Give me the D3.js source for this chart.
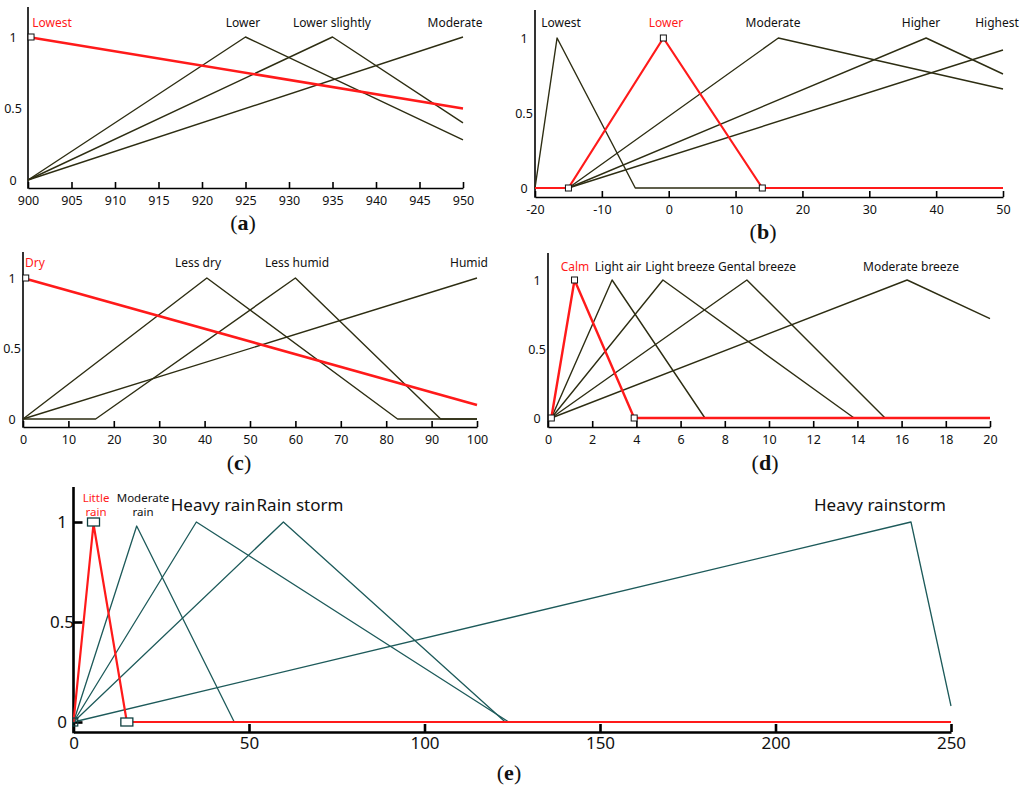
<!DOCTYPE html>
<html>
<head>
<meta charset="utf-8">
<script src="https://cdn.jsdelivr.net/npm/d3@7"></script>
<style>
  body { margin: 0; background: #fff; }
  svg text { font-family: "Noto Sans", "Open Sans", sans-serif; }
</style>
</head>
<body>
<div id="chart"></div>
<script>
// (a) air pressure
const aTicks = [900, 905, 910, 915, 920, 925, 930, 935, 940, 945, 950]
const aNames = ["Lowest", "Lower", "Lower slightly", "Moderate"]
const aLowest = [[900, 1], [950, 0.5]]
const aLower = [[900, 0], [925, 1], [950, 0.28]]
const aLowerSlightly = [[900, 0], [935, 1], [950, 0.4]]
const aModerate = [[900, 0], [950, 1]]
const aMarks = [[900.35, 1]]

// (b) temperature
const bTicks = [-20, -10, 0, 10, 20, 30, 40, 50]
const bNames = ["Lowest", "Lower", "Moderate", "Higher", "Highest"]
const bLowest = [[-20, 0], [-16.7, 1], [-5, 0], [50, 0]]
const bLower = [[-20, 0], [-15, 0], [-0.8, 1], [14, 0], [50, 0]]
const bModerate = [[-20, 0], [-15, 0], [16.4, 1], [50, 0.66]]
const bHigher = [[-20, 0], [-15, 0], [38.5, 1], [50, 0.76]]
const bHighest = [[-20, 0], [-15, 0], [50, 0.92]]
const bMarks = [[-15, 0], [-0.8, 1], [14, 0]]

// (c) humidity
const cTicks = [0, 10, 20, 30, 40, 50, 60, 70, 80, 90, 100]
const cNames = ["Dry", "Less dry", "Less humid", "Humid"]
const cDry = [[0, 1], [100, 0.1]]
const cLessDry = [[0, 0], [40.5, 1], [82.5, 0], [100, 0]]
const cLessHumid = [[0, 0], [16, 0], [60, 1], [92, 0], [100, 0]]
const cHumid = [[0, 0], [100, 1]]
const cMarks = [[0.6, 1]]

// (d) wind speed
const dTicks = [0, 2, 4, 6, 8, 10, 12, 14, 16, 18, 20]
const dNames = ["Calm", "Light air", "Light breeze", "Gental breeze", "Moderate breeze"]
const dCalm = [[0.15, 0], [1.2, 1], [3.9, 0], [20, 0]]
const dLightAir = [[0.15, 0], [2.9, 1], [7.1, 0], [20, 0]]
const dLightBreeze = [[0.15, 0], [5.2, 1], [13.85, 0], [20, 0]]
const dGentalBreeze = [[0.15, 0], [9, 1], [15.25, 0], [20, 0]]
const dModerateBreeze = [[0.15, 0], [16.25, 1], [20, 0.72]]
const dMarks = [[0.15, 0], [1.2, 1], [3.9, 0]]

// (e) rainfall
const eTicks = [0, 50, 100, 150, 200, 250]
const eNames = ["Little\nrain", "Moderate\nrain", "Heavy rain", "Rain storm", "Heavy rainstorm"]
const eLittle = [[0, 0], [5.7, 0.99], [15.2, 0], [250, 0]]
const eModerate = [[0, 0], [18, 0.98], [45.8, 0], [250, 0]]
const eHeavy = [[0, 0], [35, 1], [124, 0], [250, 0]]
const eStorm = [[0, 0], [59.8, 1], [123, 0], [250, 0]]
const eHeavyStorm = [[0, 0], [238.6, 1], [250, 0.08]]
const eMarks = [[5.7, 1], [15.2, 0]]
const eOrigin = [[0.5, 0]]

const yTicks = [0, 0.5, 1]

let svg = d3.select("#chart")
  .append("svg")
  .attr("width", 1024)
  .attr("height", 792)

const RED = "#ff1a1a"

function panel(cfg) {
  let x = d3.scaleLinear().domain(cfg.xDomain).range(cfg.xRange)
  let y = d3.scaleLinear().domain([0, 1]).range([cfg.y0, cfg.y1])
  let g = svg.append("g")

  //X axis, ticks pointing up
  let xa = g.append("g")
  .attr("transform", "translate(0," + cfg.axisY + ")")
  .call(d3.axisBottom(x)
    .tickValues(cfg.ticks)
    .tickSizeInner(-cfg.tickLen)
    .tickSizeOuter(0)
    .tickPadding(cfg.tickPad)
    .tickFormat(d => String(d)))
  xa.attr("font-family", null).attr("font-size", cfg.tickFont)
  xa.select(".domain").attr("stroke", "#000").attr("stroke-width", cfg.axisW)
  xa.selectAll(".tick line").attr("stroke", "#000").attr("stroke-width", cfg.axisW)
  xa.selectAll(".tick text").attr("fill", "#111")

  //Y axis
  let ya = g.append("g")
  .attr("transform", "translate(" + cfg.xRange[0] + ",0)")
  .call(d3.axisLeft(y)
    .tickValues(yTicks)
    .tickSizeInner(-cfg.yTickLen)
    .tickSizeOuter(0)
    .tickPadding(0)
    .tickFormat(d => String(d)))
  ya.attr("font-family", null).attr("font-size", cfg.yFont)
  ya.select(".domain").remove()
  ya.selectAll(".tick line").attr("stroke", "#000").attr("stroke-width", cfg.axisW)
  ya.selectAll(".tick text")
  .attr("text-anchor", "middle")
  .attr("x", cfg.yLabelX - cfg.xRange[0])
  .attr("fill", "#111")

  g.append("line")
  .attr("x1", cfg.xRange[0]).attr("x2", cfg.xRange[0])
  .attr("y1", cfg.axisTop).attr("y2", cfg.axisY + cfg.axisW / 2)
  .attr("stroke", "#000")
  .attr("stroke-width", cfg.axisW)

  let line = d3.line().x(d => x(d[0])).y(d => y(d[1]))

  // dark curves first, red one on top
  cfg.series.forEach((s, i) => {
    if (i === cfg.redIndex) return
    g.append("path")
    .attr("d", line(s))
    .attr("fill", "none")
    .attr("stroke", cfg.color)
    .attr("stroke-width", cfg.lineW)
    .attr("stroke-linejoin", "round")
  })
  g.append("path")
  .attr("d", line(cfg.series[cfg.redIndex]))
  .attr("fill", "none")
  .attr("stroke", RED)
  .attr("stroke-width", cfg.redW)
  .attr("stroke-linejoin", "round")

  // square markers
  g.selectAll(".mark")
  .data(cfg.marks)
  .enter()
  .append("rect")
  .attr("x", d => x(d[0]) - cfg.markW / 2)
  .attr("y", d => y(d[1]) - cfg.markH / 2)
  .attr("width", cfg.markW)
  .attr("height", cfg.markH)
  .attr("fill", "#fff")
  .attr("stroke", cfg.markColor)
  .attr("stroke-width", cfg.markStroke)

  // membership names
  cfg.names.forEach((name, i) => {
    let parts = name.split("\n")
    let t = g.append("text")
    .attr("text-anchor", "middle")
    .attr("fill", i === cfg.redIndex ? RED : "#111")
    .attr("font-size", parts.length > 1 ? cfg.smallFont : cfg.labelFont)
    parts.forEach((p, k) => {
      t.append("tspan")
      .attr("x", cfg.labelX[i])
      .attr("y", parts.length > 1 ? cfg.labelY2[k] : cfg.labelY)
      .text(p)
    })
  })

  // caption
  let cap = g.append("text")
  .attr("x", cfg.capX)
  .attr("y", cfg.capY)
  .attr("text-anchor", "middle")
  .attr("font-size", 22)
  .style("font-family", "'Liberation Serif', 'DejaVu Serif', serif")
  .attr("fill", "#111")
  cap.append("tspan").text("(")
  cap.append("tspan").attr("font-weight", "bold").text(cfg.caption)
  cap.append("tspan").text(")")
}

const small = {
  tickLen: 6, tickPad: 8, tickFont: 12.5, yFont: 12.5, yTickLen: 0,
  axisW: 1.6, lineW: 1.4, color: "#2d2d12", labelFont: 12,
  markW: 6, markH: 6, markColor: "#111", markStroke: 1
}

panel(Object.assign({}, small, {
  xDomain: [900, 950], xRange: [28, 463], y0: 180, y1: 37,
  axisY: 188, axisTop: 7, yLabelX: 13, ticks: aTicks,
  series: [aLowest, aLower, aLowerSlightly, aModerate], redIndex: 0, redW: 2.6,
  marks: aMarks, names: aNames, labelX: [52, 243, 332, 455], labelY: 27,
  caption: "a", capX: 243, capY: 230
}))

panel(Object.assign({}, small, {
  xDomain: [-20, 50], xRange: [535, 1003], y0: 188, y1: 38,
  axisY: 197, axisTop: 10, yLabelX: 524, ticks: bTicks,
  series: [bLowest, bLower, bModerate, bHigher, bHighest], redIndex: 1, redW: 2.2,
  marks: bMarks, names: bNames, labelX: [561, 666, 773, 921, 997], labelY: 27,
  caption: "b", capX: 763, capY: 239
}))

panel(Object.assign({}, small, {
  xDomain: [0, 100], xRange: [23, 477], y0: 419, y1: 278,
  axisY: 427, axisTop: 252, yLabelX: 12, ticks: cTicks,
  series: [cDry, cLessDry, cLessHumid, cHumid], redIndex: 0, redW: 2.6,
  marks: cMarks, names: cNames, labelX: [35, 198, 297, 469], labelY: 267,
  caption: "c", capX: 239, capY: 470
}))

panel(Object.assign({}, small, {
  xDomain: [0, 20], xRange: [548, 990], y0: 418, y1: 280,
  axisY: 427, axisTop: 253, yLabelX: 537, ticks: dTicks,
  series: [dCalm, dLightAir, dLightBreeze, dGentalBreeze, dModerateBreeze], redIndex: 0, redW: 2.4,
  marks: dMarks, names: dNames, labelX: [575, 618, 680, 757, 911], labelY: 271,
  caption: "d", capX: 765, capY: 470
}))

panel({
  xDomain: [0, 250], xRange: [73.5, 951], y0: 722, y1: 522,
  axisY: 732, axisTop: 487, yLabelX: 62, ticks: eTicks,
  tickLen: 8, tickPad: 5, tickFont: 17, yFont: 17, yTickLen: 9,
  axisW: 2.6, lineW: 1.3, color: "#1d5a5a", labelFont: 17, smallFont: 11.5,
  series: [eLittle, eModerate, eHeavy, eStorm, eHeavyStorm], redIndex: 0, redW: 2.2,
  marks: eMarks, markW: 12, markH: 8, markColor: "#0e3f3f", markStroke: 1.3,
  names: eNames, labelX: [96, 143, 213, 300, 880], labelY: 511, labelY2: [502, 516],
  caption: "e", capX: 509, capY: 780
})

// small origin marker of (e)
let ex = d3.scaleLinear().domain([0, 250]).range([73.5, 951])
let ey = d3.scaleLinear().domain([0, 1]).range([722, 522])
svg.selectAll(".origin")
.data(eOrigin)
.enter()
.append("rect")
.attr("x", d => ex(d[0]) - 2.5)
.attr("y", d => ey(d[1]) - 4)
.attr("width", 5)
.attr("height", 8)
.attr("fill", "none")
.attr("stroke", "#0e3f3f")
.attr("stroke-width", 1.2)
</script>
</body>
</html>
